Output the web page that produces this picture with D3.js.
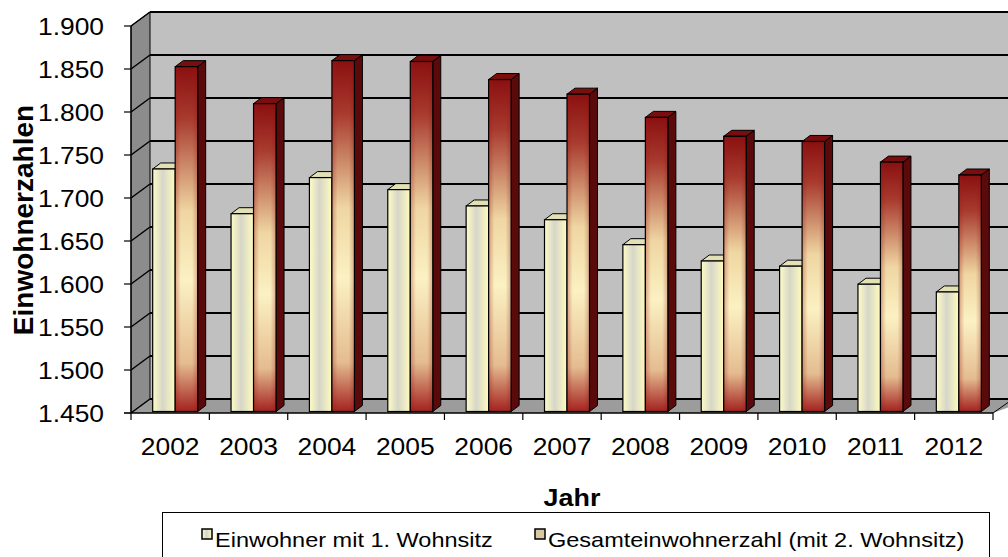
<!DOCTYPE html>
<html>
<head>
<meta charset="utf-8">
<script src="https://cdn.jsdelivr.net/npm/d3@7"></script>
<style>
  body { margin: 0; background: #fff; }
  text { font-family: "Liberation Sans", Arial, sans-serif; fill: #000; }
</style>
</head>
<body>
<script>
// data
var years = ['2002', '2003', '2004', '2005', '2006', '2007', '2008', '2009', '2010', '2011', '2012'];
var seriesNames = ['Einwohner mit 1. Wohnsitz', 'Gesamteinwohnerzahl (mit 2. Wohnsitz)'];
var erstWohnsitz = [1732, 1680, 1722, 1708, 1689, 1673, 1644, 1625, 1619, 1598, 1589];
var gesamt = [1851, 1808, 1858, 1857, 1836, 1819, 1792, 1770, 1764, 1740, 1725];
var yTicks = [1450, 1500, 1550, 1600, 1650, 1700, 1750, 1800, 1850, 1900];

var width = 1008,
	height = 557;

var svg = d3.select('body').append('svg')
	.attr('width', width)
	.attr('height', height);

// wall depth (3d look) and bar depth
var depth = {x: 19, y: -14},
	barDepth = {x: 8, y: -6},
	stretch = 1.1;

var xScale = d3.scaleBand().domain(years).range([131, 993]),
	yScale = d3.scaleLinear().domain([1450, 1900]).range([413, 26]);

var de = d3.formatLocale({decimal: ',', thousands: '.', grouping: [3], currency: ['', '€']});
var fmt = de.format(',.0f');

var defs = svg.append('defs');

function gradient(id, vertical, stops) {
	var g = defs.append('linearGradient').attr('id', id)
		.attr('x1', 0).attr('y1', 0)
		.attr('x2', vertical ? 0 : 1).attr('y2', vertical ? 1 : 0);
	stops.forEach(function(s) {
		g.append('stop').attr('offset', s[0]).attr('stop-color', s[1]).attr('stop-opacity', s[2] == null ? 1 : s[2]);
	});
}

// cream bars: light - grey - light across
gradient('cream', false, [['0%', '#fffcc6'], ['45%', '#d6d6c8'], ['100%', '#fffbbe']]);
// red bars: dark red top, cream lower middle, red bottom
gradient('red', true, [['0%', '#8a1010'], ['15%', '#a83a2e'], ['42%', '#efd6a2'], ['62%', '#fbf1c2'], ['86%', '#e4bc90'], ['100%', '#a42220']]);
// red edges across the red bars
gradient('redEdge', false, [['0%', '#a01818', 0.35], ['25%', '#a01818', 0], ['75%', '#a01818', 0], ['100%', '#801010', 0.3]]);

var y0 = yScale(1450),
	yTop = yScale(1900),
	xLeft = 131;

// back wall
svg.append('rect')
	.attr('x', xLeft + depth.x).attr('y', yTop + depth.y)
	.attr('width', width).attr('height', y0 - yTop)
	.attr('fill', '#c0c0c0');

// side wall
svg.append('polygon')
	.attr('points', [[xLeft, yTop], [xLeft + depth.x, yTop + depth.y], [xLeft + depth.x, y0 + depth.y], [xLeft, y0]].join(' '))
	.attr('fill', '#8c8c8c')
	.attr('stroke', '#000').attr('stroke-width', 1);

// floor
svg.append('polygon')
	.attr('points', [[xLeft, y0], [xLeft + depth.x, y0 + depth.y], [1013 + depth.x, y0 + depth.y], [993, y0]].join(' '))
	.attr('fill', '#9c9c9c');

// gridlines on back wall and side wall
svg.selectAll('.grid')
	.data(yTicks)
	.enter().append('line')
	.attr('class', 'grid')
	.attr('x1', xLeft + depth.x).attr('x2', width)
	.attr('y1', function(d) { return yScale(d) + depth.y; })
	.attr('y2', function(d) { return yScale(d) + depth.y; })
	.attr('stroke', '#000').attr('stroke-width', 2);

svg.selectAll('.sidegrid')
	.data(yTicks)
	.enter().append('line')
	.attr('class', 'sidegrid')
	.attr('x1', xLeft).attr('x2', xLeft + depth.x)
	.attr('y1', function(d) { return yScale(d); })
	.attr('y2', function(d) { return yScale(d) + depth.y; })
	.attr('stroke', '#000').attr('stroke-width', 1.5);

// floor front edge + right edge
svg.append('polyline')
	.attr('points', [[xLeft, y0], [993, y0], [1013, y0 + depth.y]].join(' '))
	.attr('fill', 'none').attr('stroke', '#000').attr('stroke-width', 1);

// bars
var barW = 22.5,
	shift = 5,
	bottom = y0 - 1.5;

function barX(i, s) {
	var bw = xScale.bandwidth();
	return xScale(years[i]) + (bw - 2 * barW) / 2 + shift + s * barW;
}

function drawBar(g, x, v, fill, sideFill, topFill, overlay) {
	var top = yScale(v) - 1.5;
	// side
	g.append('polygon')
		.attr('points', [[x + barW, top], [x + barW + barDepth.x, top + barDepth.y], [x + barW + barDepth.x, bottom + barDepth.y], [x + barW, bottom]].join(' '))
		.attr('fill', sideFill).attr('stroke', '#000').attr('stroke-width', 1);
	// top
	g.append('polygon')
		.attr('points', [[x, top], [x + barDepth.x, top + barDepth.y], [x + barW + barDepth.x, top + barDepth.y], [x + barW, top]].join(' '))
		.attr('fill', topFill).attr('stroke', '#000').attr('stroke-width', 1);
	// front
	g.append('rect')
		.attr('x', x).attr('y', top)
		.attr('width', barW).attr('height', bottom - top)
		.attr('fill', fill);
	if (overlay) {
		g.append('rect')
			.attr('x', x).attr('y', top)
			.attr('width', barW).attr('height', bottom - top)
			.attr('fill', overlay);
	}
	g.append('rect')
		.attr('x', x).attr('y', top)
		.attr('width', barW).attr('height', bottom - top)
		.attr('fill', 'none').attr('stroke', '#000').attr('stroke-width', 1.2);
}

var bars = svg.append('g');
years.forEach(function(yr, i) {
	var g = bars.append('g');
	drawBar(g, barX(i, 0), erstWohnsitz[i], 'url(#cream)', '#d8d6b0', '#e2e0b4');
	drawBar(g, barX(i, 1), gesamt[i], 'url(#red)', '#5a0a0a', '#7a0d0d', 'url(#redEdge)');
});

// y axis
svg.append('line')
	.attr('x1', xLeft).attr('x2', xLeft)
	.attr('y1', yTop).attr('y2', y0)
	.attr('stroke', '#000').attr('stroke-width', 1.2);

svg.selectAll('.ytick')
	.data(yTicks)
	.enter().append('line')
	.attr('class', 'ytick')
	.attr('x1', xLeft - 7).attr('x2', xLeft)
	.attr('y1', function(d) { return yScale(d); })
	.attr('y2', function(d) { return yScale(d); })
	.attr('stroke', '#000').attr('stroke-width', 1.2);

svg.selectAll('.ylabel')
	.data(yTicks)
	.enter().append('text')
	.attr('class', 'ylabel')
	.attr('text-anchor', 'end')
	.attr('transform', function(d) {
		return 'translate(104,' + (yScale(d) + 8.5) + ') scale(' + stretch + ',1)';
	})
	.style('font-size', '24px')
	.text(function(d) { return fmt(d); });

// x axis
svg.append('line')
	.attr('x1', xLeft - 7).attr('x2', 993)
	.attr('y1', y0).attr('y2', y0)
	.attr('stroke', '#000').attr('stroke-width', 1.2);

svg.selectAll('.xtick')
	.data(years.concat(['end']))
	.enter().append('line')
	.attr('class', 'xtick')
	.attr('x1', function(d, i) { return xLeft + i * xScale.step(); })
	.attr('x2', function(d, i) { return xLeft + i * xScale.step(); })
	.attr('y1', y0).attr('y2', y0 + 7)
	.attr('stroke', '#000').attr('stroke-width', 1.2);

svg.selectAll('.xlabel')
	.data(years)
	.enter().append('text')
	.attr('class', 'xlabel')
	.attr('text-anchor', 'middle')
	.attr('transform', function(d) {
		return 'translate(' + (xScale(d) + xScale.bandwidth() / 2) + ',455) scale(' + stretch + ',1)';
	})
	.style('font-size', '24px')
	.text(function(d) { return d; });

// axis titles
svg.append('text')
	.attr('text-anchor', 'middle')
	.attr('transform', 'translate(572,506) scale(1.12,1)')
	.style('font-size', '24px').style('font-weight', 'bold')
	.text('Jahr');

svg.append('text')
	.attr('text-anchor', 'middle')
	.attr('transform', 'translate(33,220) rotate(-90)')
	.style('font-size', '28px').style('font-weight', 'bold')
	.text('Einwohnerzahlen');

// legend
var legend = svg.append('g');
legend.append('rect')
	.attr('x', 162.5).attr('y', 512.5)
	.attr('width', 827).attr('height', 60)
	.attr('fill', '#fff').attr('stroke', '#000').attr('stroke-width', 1);

var legendX = [202, 535];
var legendFill = ['url(#cream)', '#d9c9a0'];
seriesNames.forEach(function(name, i) {
	legend.append('rect')
		.attr('x', legendX[i]).attr('y', 529)
		.attr('width', 10).attr('height', 10)
		.attr('fill', legendFill[i]).attr('stroke', '#000').attr('stroke-width', 1.5);
	legend.append('text')
		.attr('transform', 'translate(' + (legendX[i] + 13) + ',547) scale(1.12,1)')
		.style('font-size', '21px')
		.text(name);
});
</script>
</body>
</html>
